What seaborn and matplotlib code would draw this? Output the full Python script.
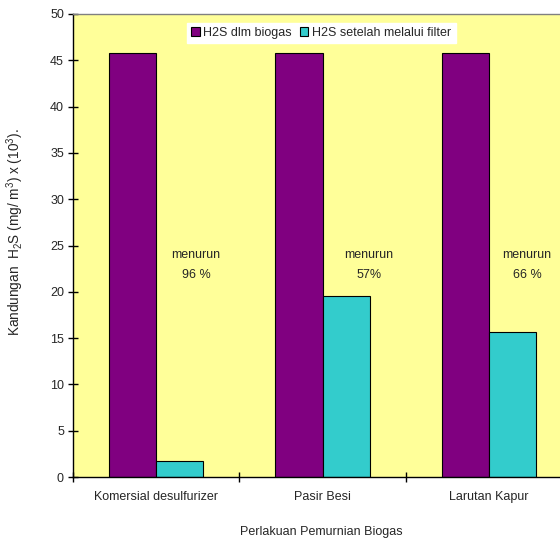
import matplotlib
matplotlib.use("Agg")
import matplotlib.pyplot as plt
import seaborn as sns
import pandas as pd

categories = ["Komersial desulfurizer", "Pasir Besi", "Larutan Kapur"]
series_names = ["H2S dlm biogas", "H2S setelah melalui filter"]
h2s_biogas = [45.8, 45.8, 45.8]
h2s_filter = [1.7, 19.5, 15.7]
reduction_labels = ["menurun\n96 %", "menurun\n57%", "menurun\n66 %"]
yticks = [0, 5, 10, 15, 20, 25, 30, 35, 40, 45, 50]

sns.set_theme(style="white")
plt.rcParams['font.family'] = ['Liberation Sans', 'DejaVu Sans']
plt.rcParams['mathtext.fontset'] = 'custom'
plt.rcParams['mathtext.rm'] = 'Liberation Sans'
plt.rcParams['mathtext.it'] = 'Liberation Sans:italic'
plt.rcParams['mathtext.bf'] = 'Liberation Sans:bold'

df = pd.DataFrame({
    "cat": categories * 2,
    "series": [series_names[0]] * 3 + [series_names[1]] * 3,
    "val": h2s_biogas + h2s_filter,
})

FS = 9

fig = plt.figure(figsize=(5.6, 5.41), dpi=100)
ax = fig.add_axes([73/560, 1-477/541, (572-73)/560, (477-14)/541])
ax.set_facecolor("#FFFF99")

sns.barplot(data=df, x="cat", y="val", hue="series", order=categories,
            hue_order=series_names, palette=["#800080", "#33CCCC"],
            width=0.566, edgecolor="black", linewidth=0.8, saturation=1,
            ax=ax, legend=True)

ax.set_xlim(-0.5, 2.5)
ax.set_ylim(0, 50)
ax.set_yticks(yticks)
ax.set_yticklabels([str(v) for v in yticks], fontsize=FS)
ax.set_xticks([-0.5, 0.5, 1.5])
ax.set_xticklabels([])
for i, c in enumerate(categories):
    ax.text(i, -2.2, c, ha="center", va="center", fontsize=FS)
ax.tick_params(axis="both", direction="inout", length=7, width=1, color="black",
               left=True, bottom=True, pad=3)

for s in ["left", "bottom"]:
    ax.spines[s].set_color("black")
    ax.spines[s].set_linewidth(1)
ax.spines["top"].set_color("#808080")
ax.spines["top"].set_linewidth(1)
ax.spines["right"].set_visible(False)

offsets = [0.24, 0.28, 0.23]
for i, (lab, off) in enumerate(zip(reduction_labels, offsets)):
    ax.text(i + off, 22.9, lab, ha="center", va="center", fontsize=FS,
            linespacing=1.8)

ax.set_xlabel("")
ax.set_ylabel("")
fig.text(15/560, 1-232/541, r"Kandungan  H$_2$S (mg/ m$^3$) x (10$^3$).",
         rotation=90, ha="center", va="center", fontsize=9.8)
fig.text(321/560, 1-532/541, "Perlakuan Pemurnian Biogas", ha="center",
         va="center", fontsize=FS)

leg = ax.legend(loc="center", bbox_to_anchor=((321-73)/(572-73), 1-(33-14)/(477-14)),
                ncol=2, fontsize=FS, frameon=True, fancybox=False,
                handlelength=0.7, handleheight=0.7, handletextpad=0.3,
                columnspacing=0.6, borderpad=0.35, borderaxespad=0)
leg.get_frame().set_facecolor("white")
leg.get_frame().set_edgecolor("white")
leg.get_frame().set_alpha(1)

fig.savefig("out.png", dpi=100)
